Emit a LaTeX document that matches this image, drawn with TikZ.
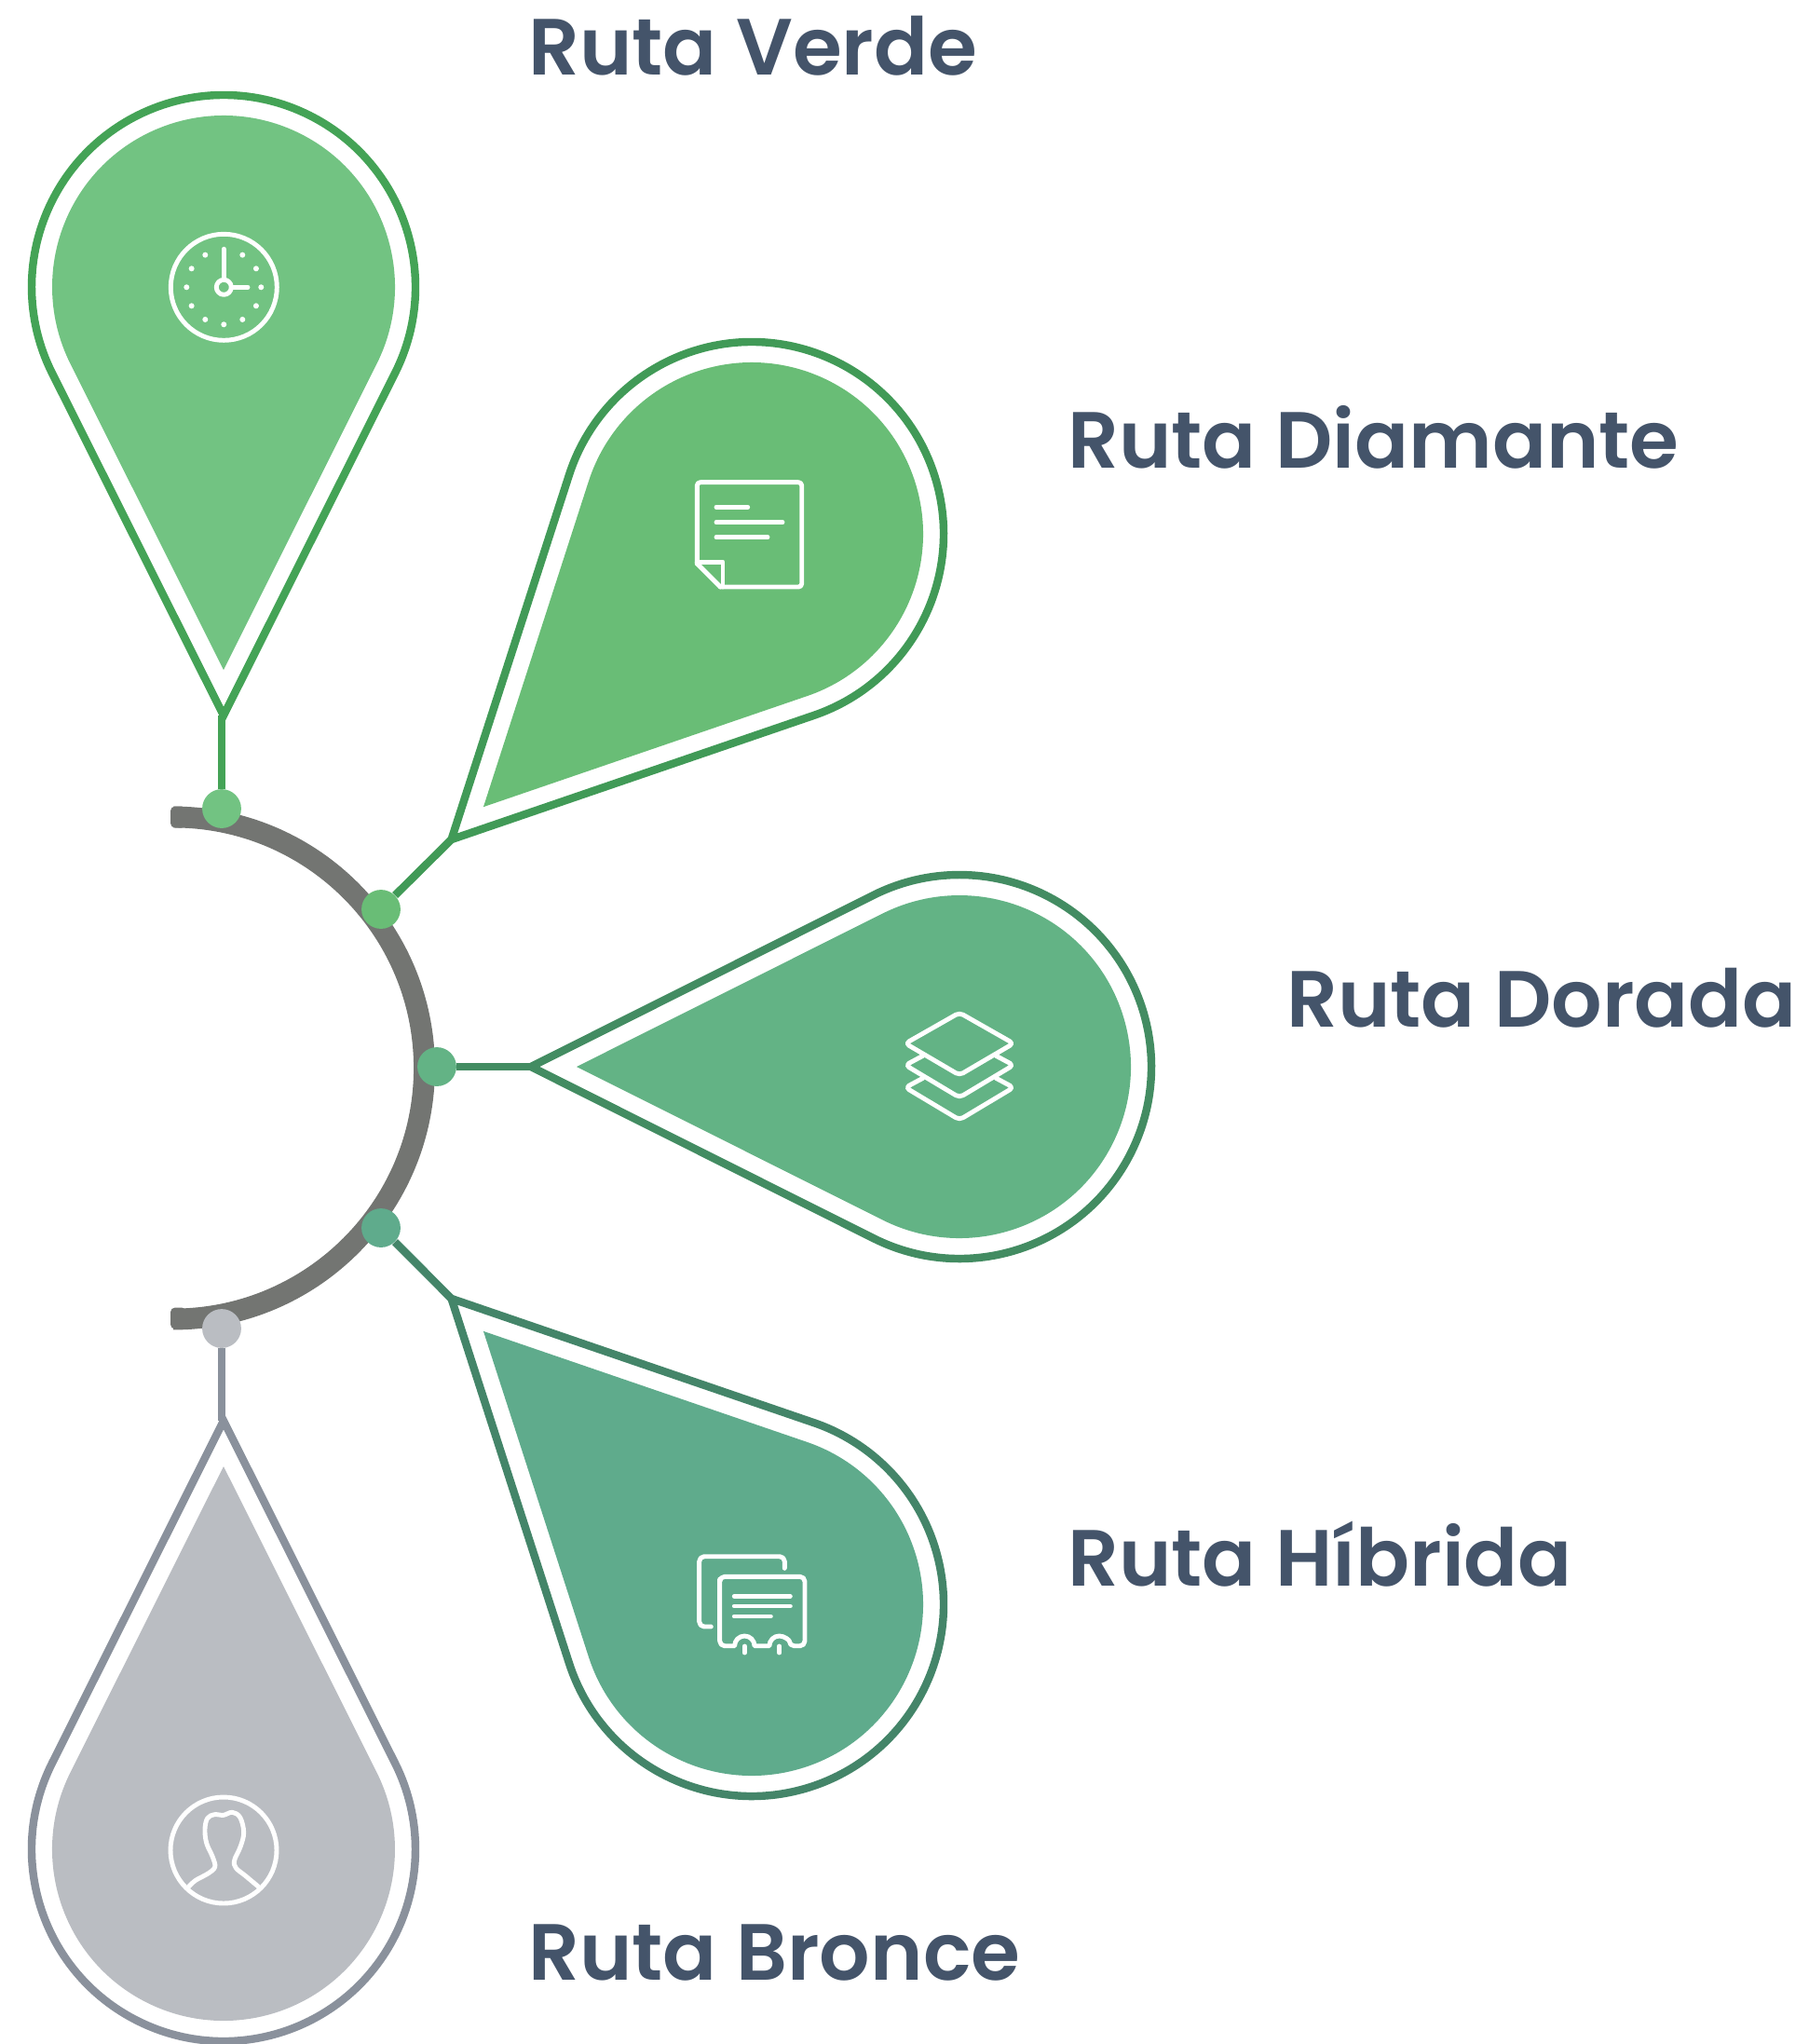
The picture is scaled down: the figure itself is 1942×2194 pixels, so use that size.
\documentclass[tikz,border=0pt]{standalone}
\usepackage{fontspec}
\newfontfamily\labelfont{Poppins SemiBold}
\definecolor{lineverde}{HTML}{44A356}
\definecolor{fillverde}{HTML}{72C382}
\definecolor{linediamante}{HTML}{419A57}
\definecolor{filldiamante}{HTML}{69BD76}
\definecolor{linedorada}{HTML}{438C62}
\definecolor{filldorada}{HTML}{63B385}
\definecolor{linehibrida}{HTML}{448569}
\definecolor{fillhibrida}{HTML}{5FAB8C}
\definecolor{linebronce}{HTML}{8A919C}
\definecolor{fillbronce}{HTML}{BABDC2}
\definecolor{arcgray}{HTML}{737572}
\definecolor{labelblue}{HTML}{44546A}
\begin{document}
\begin{tikzpicture}[x=0.02cm,y=0.02cm,
	every node/.style={inner sep=0},
	dot/.style={circle,minimum size=42*0.567pt},
	link/.style={line width=4.8pt},
	icon/.style={white,line width=2.8pt,line cap=round,line join=round},
	routelabel/.style={anchor=base west,text=labelblue,font=\labelfont\fontsize{48.7}{54}\selectfont}]
\useasboundingbox (0,0) rectangle (1942,-2194);
\draw[arcgray,line width=13pt] (186,-877) arc[start angle=90,end angle=-90,radius=269.5];
\fill[arcgray,rounded corners=2.8pt] (183,-865.5) rectangle (200,-888.5);
\fill[arcgray,rounded corners=2.8pt] (183,-1403.5) rectangle (200,-1426.5);
\foreach \name/\cx/\cy/\ang in {verde/240/308/270,diamante/807/573/225.5,dorada/1030/1145/180,hibrida/807/1722/134.5,bronce/240/1985/90}{
	\begin{scope}[shift={(\cx,-\cy)},rotate=\ang]
	\draw[line\name,line width=4.8pt,miter limit=10] (460,0) -- (63.4:206) arc[start angle=63.4,end angle=296.6,radius=206] -- cycle;
	\fill[fill\name] (411,0) -- (63.4:184) arc[start angle=63.4,end angle=296.6,radius=184] -- cycle;
	\coordinate (tip\name) at (460,0);
	\end{scope}
}
\node[dot,fill=fillverde] (dotverde) at (238,-868) {};
\node[dot,fill=filldiamante] (dotdiamante) at (409,-976) {};
\node[dot,fill=filldorada] (dotdorada) at (469,-1145) {};
\node[dot,fill=fillhibrida] (dothibrida) at (409,-1318) {};
\node[dot,fill=fillbronce] (dotbronce) at (238,-1426) {};
\draw[lineverde,link] (dotverde) -- (dotverde |- tipverde);
\draw[linediamante,link] (dotdiamante) -- (tipdiamante);
\draw[linedorada,link] (dotdorada) -- (tipdorada);
\draw[linehibrida,link] (dothibrida) -- (tiphibrida);
\draw[linebronce,link] (dotbronce) -- (dotbronce |- tipbronce);
\node[routelabel] (labverde) at (567,-80) {Ruta Verde};
\node[routelabel] (labdiamante) at (1146,-502) {Ruta Diamante};
\node[routelabel] (labdorada) at (1381,-1102) {Ruta Dorada};
\node[routelabel] (labhibrida) at (1146,-1702) {Ruta Híbrida};
\node[routelabel] (labbronce) at (567,-2125) {Ruta Bronce};
\draw[icon] (240.3,-308.3) circle[radius=57];
\draw[icon] (240.3,-308.3) circle[radius=8];
\draw[icon] (240.3,-267.3) -- (240.3,-300.3);
\draw[icon] (248.3,-308.3) -- (266,-308.3);
\foreach \hr in {0,-30,-60,-90,-120,-150,-180,-210,-240,-270,-300}{
	\fill[white] (240.3,-308.3) ++(\hr+60:40) circle[radius=3];
}
\draw[icon,rounded corners=2pt] (773.3,-630) -- (860.7,-630) -- (860.7,-517.7) -- (748.3,-517.7) -- (748.3,-605);
\draw[icon] (748.3,-605) -- (773.3,-630);
\draw[icon] (748.3,-603.3) -- (776,-603.3) -- (776,-630);
\draw[icon] (769,-544.3) -- (802.7,-544.3);
\draw[icon] (769,-560.7) -- (840,-560.7);
\draw[icon] (769,-576.7) -- (824,-576.7);
\draw[icon,rounded corners=2.5pt] (1030,-1087) -- (1088,-1120) -- (1030,-1154) -- (972,-1120) -- cycle;
\draw[icon,rounded corners=2.5pt] (990.7,-1133.3) -- (972,-1143.3) -- (1030,-1178) -- (1088,-1143.3) -- (1069.3,-1133.3);
\draw[icon,rounded corners=2.5pt] (990.7,-1157.3) -- (972,-1167.3) -- (1030,-1202) -- (1088,-1167.3) -- (1069.3,-1157.3);
\draw[icon,rounded corners=3pt] (842.3,-1683.3) -- (842.3,-1670.7) -- (750.7,-1670.7) -- (750.7,-1746) -- (763.3,-1746);
\draw[icon] (772.7,-1695) [rounded corners=3pt] -- (772.7,-1692.3) -- (864,-1692.3) -- (864,-1766.7) -- (847.3,-1766.7) [sharp corners] arc[start angle=0,end angle=180,radius=10.7] -- (810,-1766.7) arc[start angle=0,end angle=180,radius=10.7] [rounded corners=3pt] -- (772.7,-1766.7) -- (772.7,-1695);
\draw[icon] (799.3,-1767) -- (799.3,-1774);
\draw[icon] (836.7,-1767) -- (836.7,-1774);
\draw[icon] (788.3,-1713.3) -- (848.3,-1713.3);
\draw[icon] (788.3,-1724) -- (848.3,-1724);
\draw[icon] (788.3,-1735) -- (827.3,-1735);
\draw[icon] (240,-1986) circle[radius=57];
\draw[icon] plot[smooth,tension=0.6] coordinates {(202.7,-2025) (210,-2018.3) (223.3,-2011) (230.7,-2004) (228.3,-1993.3) (221.7,-1978.3) (220,-1963.3) (222.7,-1951.7) (230,-1947.7) (240,-1948.3) (249.3,-1945.3) (257.7,-1950.7) (261.7,-1966.7) (258.3,-1981.7) (251.7,-1996.7) (253.3,-2005) (263.3,-2013.3) (277.3,-2025)};
\end{tikzpicture}
\end{document}
